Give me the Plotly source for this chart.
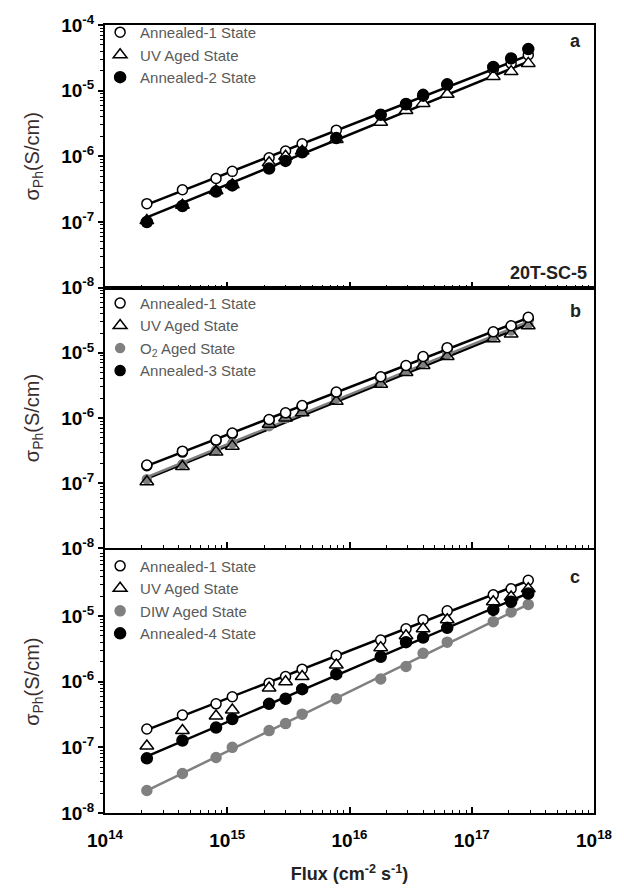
import numpy as np
import plotly.graph_objects as go

# ---------------- data ----------------
flux = [2.2e14, 4.3e14, 8.1e14, 1.1e15, 2.2e15, 3.0e15, 4.1e15, 7.8e15,
        1.8e16, 2.9e16, 4.0e16, 6.3e16, 1.5e17, 2.1e17, 2.9e17]

annealed1 = [1.9e-7, 3.1e-7, 4.6e-7, 5.9e-7, 9.5e-7, 1.2e-6, 1.55e-6, 2.5e-6,
             4.3e-6, 6.4e-6, 8.8e-6, 1.2e-5, 2.1e-5, 2.6e-5, 3.5e-5]
uv_aged = [1.05e-7, 1.8e-7, 3.0e-7, 3.7e-7, 8.0e-7, 1.0e-6, 1.2e-6, 1.8e-6,
           3.3e-6, 5.0e-6, 6.4e-6, 8.8e-6, 1.65e-5, 1.95e-5, 2.6e-5]
annealed2 = [1.0e-7, 1.75e-7, 2.9e-7, 3.6e-7, 6.5e-7, 8.5e-7, 1.15e-6, 1.9e-6,
             4.3e-6, 6.2e-6, 8.4e-6, 1.25e-5, 2.3e-5, 3.1e-5, 4.3e-5]
o2_aged = [1.15e-7, 1.95e-7, 3.2e-7, 4.1e-7, 7.5e-7, 1.0e-6, 1.25e-6, 2.0e-6,
           3.6e-6, 5.3e-6, 7.0e-6, 9.6e-6, 1.75e-5, 2.2e-5, 2.8e-5]
annealed3 = [1.85e-7, 3.0e-7, 4.5e-7, 5.7e-7, 9.2e-7, 1.15e-6, 1.5e-6, 2.4e-6,
             4.2e-6, 6.1e-6, 8.2e-6, 1.15e-5, 2.0e-5, 2.5e-5, 3.3e-5]
diw_aged = [2.2e-8, 4.0e-8, 7.0e-8, 1.0e-7, 1.8e-7, 2.3e-7, 3.2e-7, 5.5e-7,
            1.1e-6, 1.7e-6, 2.7e-6, 4.0e-6, 8.2e-6, 1.15e-5, 1.5e-5]
annealed4 = [6.8e-8, 1.27e-7, 2.0e-7, 2.7e-7, 4.6e-7, 5.5e-7, 7.7e-7, 1.3e-6,
             2.4e-6, 4.0e-6, 4.7e-6, 6.6e-6, 1.24e-5, 1.65e-5, 2.2e-5]

x_ticks = [1e14, 1e15, 1e16, 1e17, 1e18]
x_ticktext = ["10<sup>14</sup>", "10<sup>15</sup>", "10<sup>16</sup>", "10<sup>17</sup>", "10<sup>18</sup>"]
y_ticks = [1e-8, 1e-7, 1e-6, 1e-5, 1e-4]
y_ticktext = ["10<sup>-8</sup>", "10<sup>-7</sup>", "10<sup>-6</sup>", "10<sup>-5</sup>", "10<sup>-4</sup>"]

panel_labels = ["a", "b", "c"]
sample_label = "20T-SC-5"

FONT = "Liberation Sans, Arial, sans-serif"
BLACK = "#000000"
GRAY = "#808080"

fig = go.Figure()


def fit_line(x, y):
    lx, ly = np.log10(x), np.log10(y)
    p = np.polyfit(lx, ly, 1)
    xx = np.array([lx[0], lx[-1]])
    return 10 ** xx, 10 ** np.polyval(p, xx)


def add_line(x, y, color, row):
    fx, fy = fit_line(x, y)
    fig.add_trace(go.Scatter(x=fx, y=fy, mode="lines", line=dict(color=color, width=2.5),
                             showlegend=False, hoverinfo="skip",
                             xaxis="x" if row == 1 else f"x{row}",
                             yaxis="y" if row == 1 else f"y{row}"))


def add_markers(x, y, name, symbol, fill, line_color, row, size=10, rank=None):
    leg = "legend" if row == 1 else f"legend{row}"
    fig.add_trace(go.Scatter(x=x, y=y, mode="markers", name=name,
                             marker=dict(symbol=symbol, size=size, color=fill,
                                         line=dict(color=line_color, width=1.5)),
                             legend=leg, legendrank=rank if rank else 1000,
                             xaxis="x" if row == 1 else f"x{row}",
                             yaxis="y" if row == 1 else f"y{row}"))


# panel a
add_line(flux, annealed1, BLACK, 1)
add_line(flux, uv_aged, BLACK, 1)
add_markers(flux, annealed1, "Annealed-1 State", "circle", "white", BLACK, 1)
add_markers(flux, uv_aged, "UV Aged State", "triangle-up", "white", BLACK, 1, 12)
add_markers(flux, annealed2, "Annealed-2 State", "circle", BLACK, BLACK, 1, 11)

# panel b
add_line(flux, annealed1, BLACK, 2)
add_line(flux, uv_aged, BLACK, 2)
add_line(flux, o2_aged, GRAY, 2)
add_markers(flux, annealed3, "Annealed-3 State", "circle", BLACK, BLACK, 2, 10, rank=4)
add_markers(flux, o2_aged, "O<sub>2</sub> Aged State", "circle", GRAY, GRAY, 2, 9, rank=3)
add_markers(flux, uv_aged, "UV Aged State", "triangle-up", "rgba(255,255,255,0)", BLACK, 2, 12, rank=2)
add_markers(flux, annealed1, "Annealed-1 State", "circle", "white", BLACK, 2, rank=1)

# panel c
add_line(flux, annealed1, BLACK, 3)
add_line(flux, annealed4, BLACK, 3)
add_line(flux, diw_aged, GRAY, 3)
add_markers(flux, annealed1, "Annealed-1 State", "circle", "white", BLACK, 3)
add_markers(flux, uv_aged, "UV Aged State", "triangle-up", "white", BLACK, 3, 12)
add_markers(flux, diw_aged, "DIW Aged State", "circle", GRAY, GRAY, 3, 10)
add_markers(flux, annealed4, "Annealed-4 State", "circle", BLACK, BLACK, 3, 11)

minor_x = [m * 10 ** d for d in range(14, 18) for m in range(2, 10)]
minor_y = [m * 10 ** d for d in range(-8, -4) for m in range(2, 10)]

domains = [[0.6667, 1.0], [0.3358, 0.6667], [0.0, 0.3333]]
legend_tops = [1.0115, 0.6677, 0.3343]

layout = dict(
    width=624, height=893,
    margin=dict(l=105, r=22, t=20, b=78),
    paper_bgcolor="white", plot_bgcolor="white",
    font=dict(family=FONT, color=BLACK),
    showlegend=True,
)

for i in range(3):
    suffix = "" if i == 0 else str(i + 1)
    anchor_y = "y" if i == 0 else f"y{i + 1}"
    anchor_x = "x" if i == 0 else f"x{i + 1}"
    xa = dict(
        type="log", range=[14, 18], domain=[0, 1], anchor=anchor_y,
        tickmode="array", tickvals=x_ticks, ticktext=x_ticktext,
        showticklabels=(i == 2), ticklabelstandoff=9,
        tickfont=dict(size=19, family=FONT, color=BLACK, weight="bold"),
        ticks="inside", ticklen=6, tickwidth=1.5, tickcolor=BLACK,
        minor=dict(tickmode="array", tickvals=minor_x, ticks="inside", ticklen=3,
                   tickwidth=1.2, tickcolor=BLACK, showgrid=False),
        showline=True, linewidth=2, linecolor=BLACK, mirror=True,
        showgrid=False, zeroline=False,
        title=dict(text="Flux (cm<sup>-2</sup> s<sup>-1</sup>)" if i == 2 else "",
                   font=dict(size=18, family=FONT, color="#222", weight="bold"),
                   standoff=18),
    )
    if i > 0:
        xa["matches"] = "x"
    layout[f"xaxis{suffix}"] = xa
    yt = y_ticks if i == 0 else y_ticks[:-1]
    ytt = y_ticktext if i == 0 else y_ticktext[:-1]
    layout[f"yaxis{suffix}"] = dict(
        type="log", range=[-8, -4], domain=domains[i], anchor=anchor_x,
        tickmode="array", tickvals=yt, ticktext=ytt,
        tickfont=dict(size=19, family=FONT, color=BLACK, weight="bold"),
        ticks="outside", ticklen=5, tickwidth=1.5, tickcolor=BLACK,
        minor=dict(tickmode="array", tickvals=minor_y, ticks="outside", ticklen=3,
                   tickwidth=1.2, tickcolor=BLACK, showgrid=False),
        showline=True, linewidth=2, linecolor=BLACK, mirror=True,
        showgrid=False, zeroline=False,
        title=dict(text="σ<sub>Ph</sub>(S/cm)",
                   font=dict(size=20, family=FONT, color="#3b2e2e"), standoff=16),
    )
    leg_key = "legend" if i == 0 else f"legend{i + 1}"
    layout[leg_key] = dict(
        x=-0.01, xanchor="left", y=legend_tops[i], yanchor="top",
        xref="paper", yref="paper",
        bgcolor="rgba(0,0,0,0)", borderwidth=0,
        font=dict(size=15, family=FONT, color="#5a5a5a"),
        tracegroupgap=0, itemsizing="trace",
    )

fig.update_layout(**layout)

ann = []
label_pos = [0.94, 0.91, 0.90]
for i, lab in enumerate(panel_labels):
    yref = "y domain" if i == 0 else f"y{i + 1} domain"
    xref = "x domain" if i == 0 else f"x{i + 1} domain"
    ann.append(dict(text=lab, x=0.962, y=label_pos[i], xref=xref, yref=yref,
                    xanchor="center", yanchor="middle", showarrow=False,
                    font=dict(size=18, family=FONT, color="#222", weight="bold")))
ann.append(dict(text=sample_label, x=0.99, y=0.057, xref="x domain", yref="y domain",
                xanchor="right", yanchor="middle", showarrow=False,
                font=dict(size=18, family=FONT, color="#222", weight="bold")))
fig.update_layout(annotations=ann)

fig.write_html("out.html")
